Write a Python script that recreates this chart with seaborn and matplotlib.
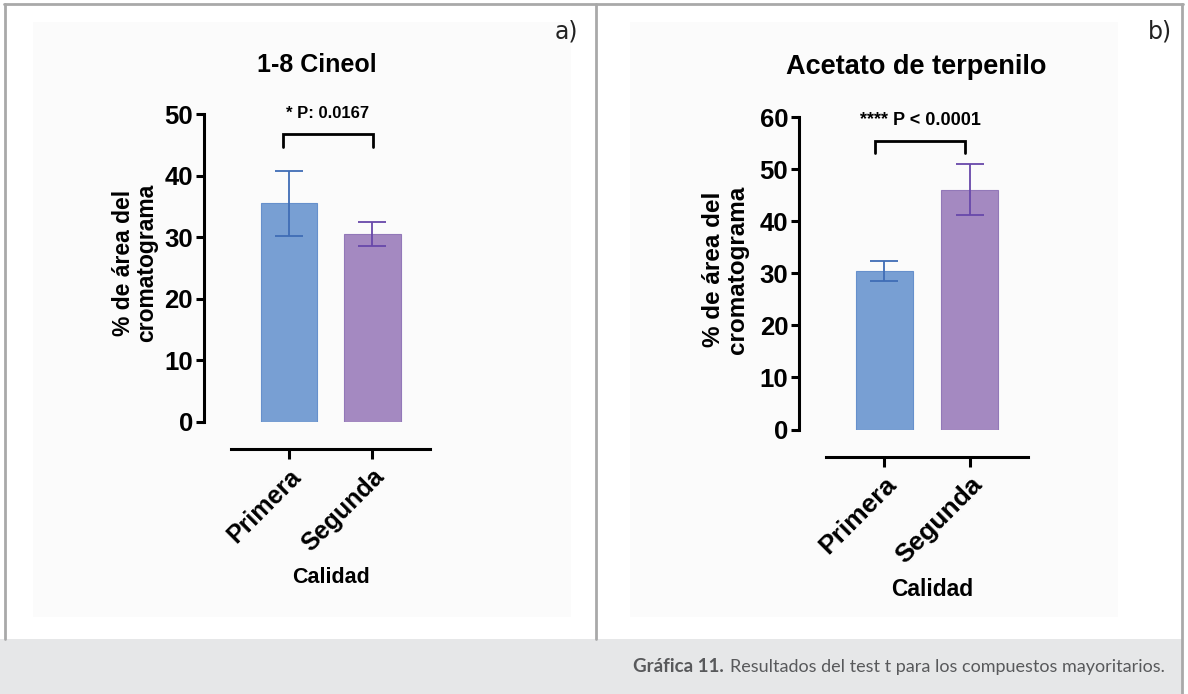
import matplotlib
matplotlib.use("Agg")
import matplotlib.pyplot as plt
from matplotlib.lines import Line2D
from matplotlib.patches import Rectangle
import seaborn as sns
import pandas as pd

# ---- data -------------------------------------------------------------
categories = ["Primera", "Segunda"]

cineol_mean = [35.5, 30.5]
cineol_sd = [5.3, 1.95]
cineol_p = "* P: 0.0167"

terpenilo_mean = [30.5, 46.1]
terpenilo_sd = [1.95, 4.9]
terpenilo_p = "**** P < 0.0001"

titles = ["1-8 Cineol", "Acetato de terpenilo"]
panel_tags = ["a)", "b)"]
y_ticks_a = [0, 10, 20, 30, 40, 50]
y_ticks_b = [0, 10, 20, 30, 40, 50, 60]
ylabel = "% de área del\ncromatograma"
xlabel = "Calidad"
caption_bold = "Gráfica 11."
caption_text = "Resultados del test t para los compuestos mayoritarios."

# ---- style ------------------------------------------------------------
sns.set_theme(style="white")
plt.rcParams["font.family"] = ["Liberation Sans", "DejaVu Sans"]
plt.rcParams["text.color"] = "black"
plt.rcParams["axes.labelcolor"] = "black"
plt.rcParams["xtick.color"] = "black"
plt.rcParams["ytick.color"] = "black"

bar_colors = ["#789fd3", "#a489c1"]
edge_colors = ["#6690cc", "#9278b8"]
err_colors = ["#3f6db6", "#6848aa"]

W, H = 1188, 694
fig = plt.figure(figsize=(W / 100, H / 100), dpi=100)
fig.patch.set_facecolor("white")


def fx(px):
    return px / W


def fy(py):
    return 1 - py / H


# page frame, panel backgrounds and caption band
fig.add_artist(Rectangle((fx(33), fy(617)), fx(571) - fx(33), fy(22) - fy(617),
                         transform=fig.transFigure, facecolor="#fbfbfb",
                         edgecolor="none", zorder=0))
fig.add_artist(Rectangle((fx(630), fy(617)), fx(1118) - fx(630), fy(22) - fy(617),
                         transform=fig.transFigure, facecolor="#fbfbfb",
                         edgecolor="none", zorder=0))
fig.add_artist(Rectangle((0, 0), fx(1182), fy(639),
                         transform=fig.transFigure, facecolor="#e6e7e8",
                         edgecolor="none", zorder=0))
frame_kw = dict(transform=fig.transFigure, color="#a9a9a9", lw=2, zorder=1)
fig.add_artist(Line2D([fx(5), fx(5)], [fy(4), fy(639)], **frame_kw))
fig.add_artist(Line2D([fx(4), fx(1183)], [fy(4), fy(4)], **frame_kw))
fig.add_artist(Line2D([fx(1182), fx(1182)], [fy(4), fy(694)], **frame_kw))
fig.add_artist(Line2D([fx(596), fx(596)], [fy(4), fy(639)], **frame_kw))


def panel(rect, means, sds, yticks, xlim, spine_lo, title, title_pos,
          ptext, bracket, xlab_pos, ylab_pos, fs):
    ax = fig.add_axes(rect)
    ax.set_facecolor("none")
    df = pd.DataFrame({"Calidad": categories, "valor": means})
    sns.barplot(data=df, x="Calidad", y="valor", hue="Calidad",
                palette=bar_colors, saturation=1, width=0.67, errorbar=None,
                legend=False, ax=ax, zorder=2)
    for patch, ec in zip(ax.patches, edge_colors):
        patch.set_edgecolor(ec)
        patch.set_linewidth(0.8)
    for i, (m, s) in enumerate(zip(means, sds)):
        ax.errorbar(i, m, yerr=s, color=err_colors[i], lw=1.3,
                    capsize=10, capthick=1.3, zorder=3)

    ax.set_xlim(*xlim)
    ax.set_ylim(yticks[0], yticks[-1])
    ax.set_yticks(yticks)
    for side in ("top", "right"):
        ax.spines[side].set_visible(False)
    for side in ("left", "bottom"):
        ax.spines[side].set_linewidth(2.2)
        ax.spines[side].set_color("black")
    ax.spines["left"].set_bounds(yticks[0], yticks[-1])
    ax.spines["bottom"].set_position(("outward", 20))
    ax.spines["bottom"].set_bounds(spine_lo, xlim[1])
    ax.tick_params(axis="y", which="major", left=True, length=6, width=2.2,
                   pad=2, labelsize=fs["ytick"], color="black",
                   labelcolor="black")
    ax.tick_params(axis="x", which="major", bottom=True, length=7, width=2.2,
                   pad=4, labelsize=fs["xtick"], color="black",
                   labelcolor="black")
    for lab in ax.get_yticklabels():
        lab.set_fontweight("bold")
    ax.set_xticks(range(len(categories)))
    ax.set_xticklabels(categories, rotation=45, ha="right",
                       rotation_mode="anchor", fontweight="bold")

    ax.set_xlabel(xlabel, fontsize=fs["xlabel"], fontweight="bold",
                  color="black")
    ax.xaxis.set_label_coords(*xlab_pos)
    ax.xaxis.label.set_verticalalignment("center")
    ax.set_ylabel(ylabel, fontsize=fs["ylabel"], fontweight="bold",
                  linespacing=1.05, color="black")
    ax.yaxis.set_label_coords(*ylab_pos)
    ax.yaxis.label.set_verticalalignment("center")

    ax.text(title_pos[0], title_pos[1], title, transform=ax.transAxes,
            ha="center", va="center", fontsize=fs["title"],
            fontweight="bold", color="black")

    x0, x1, y_leg, y_top, y_txt = bracket
    ax.plot([x0, x0, x1, x1], [y_leg, y_top, y_top, y_leg], color="black",
            lw=2.0, clip_on=False, solid_joinstyle="miter", zorder=4)
    ax.text((x0 + x1) / 2, y_txt, ptext, ha="center", va="center",
            fontsize=fs["p"], fontweight="bold", color="black", clip_on=False)
    return ax


# panel a) 1-8 Cineol
panel(rect=[fx(204), fy(421.7), fx(430) - fx(204), (421.7 - 114) / H],
      means=cineol_mean, sds=cineol_sd, yticks=y_ticks_a,
      xlim=(-1.013, 1.687), spine_lo=-0.694, title=titles[0],
      title_pos=(0.5, 1.158), ptext=cineol_p,
      bracket=(-0.073, 1.01, 44.7, 46.7, 50.0),
      xlab_pos=(0.562, -0.506), ylab_pos=(-0.305, 0.517),
      fs=dict(ytick=18.5, xtick=18, xlabel=15.5, ylabel=16.5, title=18, p=12))

# panel b) Acetato de terpenilo
panel(rect=[fx(799.3), fy(429.5), fx(1028) - fx(799.3), (429.5 - 117.3) / H],
      means=terpenilo_mean, sds=terpenilo_sd, yticks=y_ticks_b,
      xlim=(-0.993, 1.682), spine_lo=-0.68, title=titles[1],
      title_pos=(0.51, 1.160), ptext=terpenilo_p,
      bracket=(-0.108, 0.945, 53.1, 55.5, 59.4),
      xlab_pos=(0.581, -0.513), ylab_pos=(-0.322, 0.512),
      fs=dict(ytick=18.5, xtick=19, xlabel=16.5, ylabel=17.5, title=19.5, p=13))

# panel tags
tag_kw = dict(transform=fig.transFigure, ha="center", va="center",
              fontsize=17, color="#222222",
              family=["Liberation Sans Narrow", "DejaVu Sans"])
fig.text(fx(566), fy(32), panel_tags[0], **tag_kw)
fig.text(fx(1160), fy(32), panel_tags[1], **tag_kw)

# caption
cap = fig.text(fx(1165), fy(667), caption_text, ha="right", va="center",
               fontsize=13, color="#58595b", family=["Lato", "DejaVu Sans"])
fig.canvas.draw()
bb = cap.get_window_extent()
fig.text(bb.x0 / fig.dpi / fig.get_figwidth() - fx(6), fy(667), caption_bold,
         ha="right", va="center", fontsize=13.5, fontweight="bold",
         color="#58595b", family=["Lato", "DejaVu Sans"])

fig.savefig("out.png", dpi=100)
